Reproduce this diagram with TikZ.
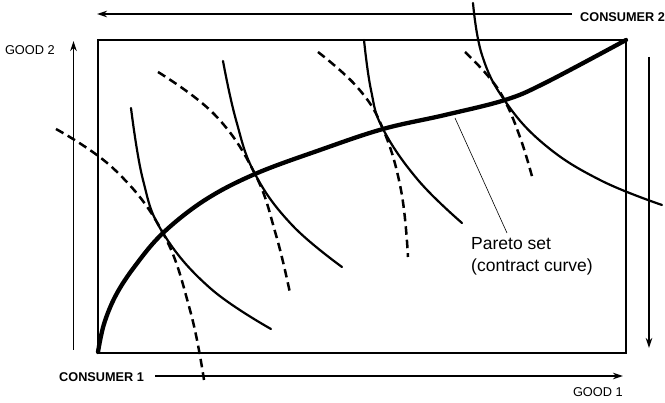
\documentclass[tikz,border=0pt]{standalone}
\usepackage{fontspec}
\setmainfont{Liberation Sans}
\usetikzlibrary{arrows.meta}
\tikzset{
  axisarrow/.style={line width=1.4pt,-{Stealth[length=10pt,width=6.5pt]}},
  boxline/.style={line width=1.4pt},
  indiff/.style={line width=2.2pt,line cap=round},
  dashcurve/.style={line width=2.5pt,dash pattern=on 8.5pt off 5pt},
  contract/.style={line width=4.3pt,line cap=round},
  pointer/.style={line width=0.6pt},
  boldlabel/.style={font=\fontsize{12.7}{14}\selectfont\bfseries,inner sep=0pt},
  goodlabel/.style={font=\fontsize{12.8}{14}\selectfont,inner sep=0pt},
  paretolabel/.style={font=\fontsize{17.5}{22}\selectfont,inner sep=0pt,align=left}
}
\begin{document}
\begin{tikzpicture}[x=1pt,y=-1pt]
\useasboundingbox (0,0) rectangle (665,403);
% frame
\draw[boxline] (98,40) rectangle (626,353);
% labels
\node[boldlabel,anchor=west] (c2) at (580,17) {CONSUMER 2};
\node[boldlabel,anchor=west] (c1) at (59,377) {CONSUMER 1};
\node[goodlabel,anchor=east] (g2) at (55,50) {GOOD 2};
\node[goodlabel,anchor=east] (g1) at (623,392) {GOOD 1};
\node[paretolabel,anchor=north west] (pl) at (471,237) {Pareto set\\(contract curve)};
% axes arrows
\coordinate (tA) at (572,14); \coordinate (tB) at (97,14);
\coordinate (lA) at (73.5,350); \coordinate (lB) at (73.5,41);
\coordinate (rA) at (649,57); \coordinate (rB) at (649,348);
\coordinate (bA) at (155,376); \coordinate (bB) at (623,376);
\draw[axisarrow] (tA) -- (tB);
\draw[axisarrow] (lA) -- (lB);
\draw[axisarrow] (rA) -- (rB);
\draw[axisarrow] (bA) -- (bB);
% consumer 1 indifference curves (solid)
\draw[indiff] plot[smooth,tension=0.7] coordinates {(131,108) (143,180) (163,233) (210,288) (271,329)};
\draw[indiff] plot[smooth,tension=0.7] coordinates {(223,61) (236,120) (255,174) (292,225) (342,267)};
\draw[indiff] plot[smooth,tension=0.7] coordinates {(364,40) (371,90) (383,129) (418,180) (462,223)};
\draw[indiff] plot[smooth,tension=0.7] coordinates {(473,3) (482,55) (505,101) (545,145) (600,180) (662,205)};
% consumer 2 indifference curves (dashed)
\draw[dashcurve] plot[smooth,tension=0.7] coordinates {(56,129) (115,170) (163,233) (190,310) (204,380)};
\draw[dashcurve] plot[smooth,tension=0.7] coordinates {(158,72) (215,115) (255,174) (276,235) (290,293)};
\draw[dashcurve] plot[smooth,tension=0.7] coordinates {(318,52) (358,88) (383,129) (401,190) (408,257)};
\draw[dashcurve] plot[smooth,tension=0.7] coordinates {(465,52) (488,76) (505,101) (521,140) (533,180)};
% contract curve
\draw[contract] plot[smooth,tension=0.6] coordinates {(98,352) (104,324) (116,295) (135,266) (163,233) (205,200) (255,174) (320,150) (383,129) (445,115) (505,100) (545,83) (626,40)};
% pointer
\coordinate (p1) at (455,118);
\coordinate (p2) at (507,233);
\draw[pointer] (p1) -- (p2);
\end{tikzpicture}
\end{document}
